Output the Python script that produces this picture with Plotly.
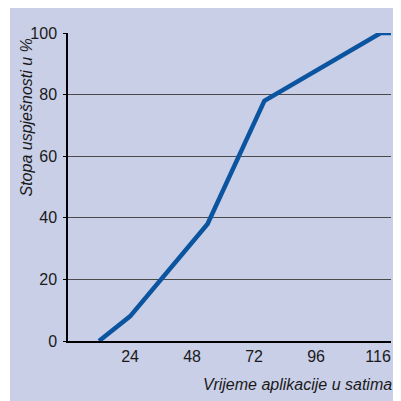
import plotly.graph_objects as go

hours = [12, 24, 54, 76, 121, 125]
success = [0, 8, 38, 78, 100, 100]
x_tickvals = [24, 48, 72, 96, 120]
x_ticktext = ["24", "48", "72", "96", "116"]
y_tickvals = [0, 20, 40, 60, 80, 100]

OFF = 8  # page body margin
W, H = 401 - OFF, 401 - OFF
L, T = 68 - OFF, 33 - OFF
R = W - (391 - OFF)
B = H - (341 - OFF)
pw, ph = W - L - R, H - T - B

def px_x(p):
    return (p - OFF - L) / pw

def px_y(p):
    return (H - B - (p - OFF)) / ph

LAV = "#c9cfe7"
fig = go.Figure()
fig.add_trace(go.Scatter(x=hours, y=success, mode="lines",
                         line=dict(color="#0b55a0", width=4.5),
                         hoverinfo="skip", showlegend=False))

fig.add_shape(type="rect", xref="paper", yref="paper",
              x0=px_x(10), x1=px_x(420), y0=px_y(420), y1=px_y(6),
              fillcolor=LAV, line=dict(width=0), layer="below")

fig.add_annotation(text="Vrijeme aplikacije u satima", xref="paper", yref="paper",
                   x=px_x(394), y=px_y(384), xanchor="right", yanchor="middle",
                   showarrow=False,
                   font=dict(family="Liberation Sans", size=16, color="#1a1a1a", style="italic"))
fig.add_annotation(text="Stopa uspješnosti u %", xref="paper", yref="paper",
                   x=px_x(25.5), y=px_y(37), xanchor="center", yanchor="top",
                   textangle=-90, showarrow=False,
                   font=dict(family="Liberation Sans", size=16, color="#1a1a1a", style="italic"))

fig.update_layout(
    width=W, height=H,
    margin=dict(l=L, r=R, t=T, b=B, pad=0),
    paper_bgcolor="white", plot_bgcolor="rgba(0,0,0,0)",
    font=dict(family="Liberation Sans", size=16, color="#1a1a1a"),
    xaxis=dict(range=[0, 125], tickvals=x_tickvals, ticktext=x_ticktext,
               showgrid=False, zeroline=False, showline=True, linecolor="black",
               linewidth=1.5, ticks="", ticklen=0),
    yaxis=dict(range=[0, 100], tickvals=y_tickvals, showgrid=True,
               gridcolor="#4a4a4a", gridwidth=1, zeroline=False, showline=True,
               linecolor="black", linewidth=1.5, ticks="outside", ticklen=3,
               tickcolor="black", ticklabelstandoff=3),
)
fig.write_html("out.html")
